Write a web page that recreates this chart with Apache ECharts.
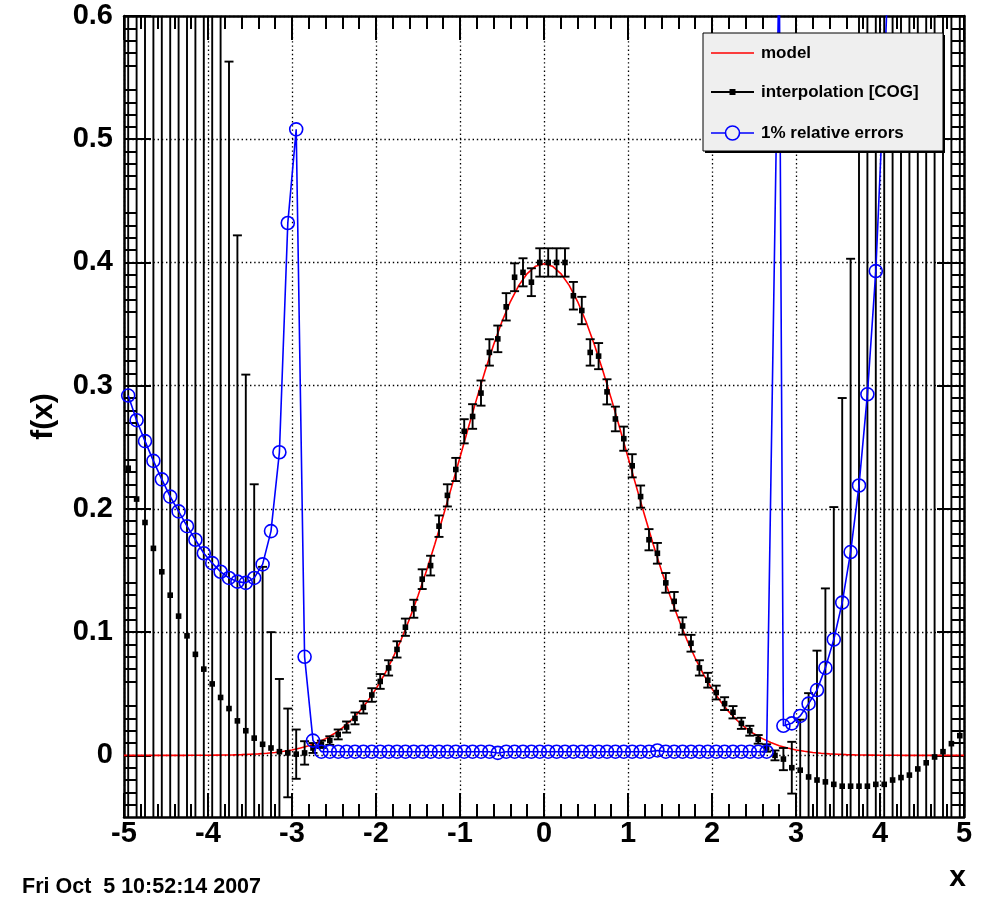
<!DOCTYPE html>
<html>
<head>
<meta charset="utf-8">
<script src="https://cdn.jsdelivr.net/npm/echarts@6/dist/echarts.min.js"></script>
<style>
html,body{margin:0;padding:0;background:#fff;}
#c{width:981px;height:899px;}
</style>
</head>
<body>
<div id="c"></div>
<script>
// ---- data ----
const xTicks = [-5,-4,-3,-2,-1,0,1,2,3,4,5];
const yTicks = [0,0.1,0.2,0.3,0.4,0.5,0.6];

// model (red)
const modelX = [-5.0,-4.9,-4.8,-4.7,-4.6,-4.5,-4.4,-4.3,-4.2,-4.1,-4.0,-3.9,-3.8,-3.7,-3.6,-3.5,-3.4,-3.3,-3.2,-3.1,-3.0,-2.9,-2.8,-2.7,-2.6,-2.5,-2.4,-2.3,-2.2,-2.1,-2.0,-1.9,-1.8,-1.7,-1.6,-1.5,-1.4,-1.3,-1.2,-1.1,-1.0,-0.9,-0.8,-0.7,-0.6,-0.5,-0.4,-0.3,-0.2,-0.1,0.0,0.1,0.2,0.3,0.4,0.5,0.6,0.7,0.8,0.9,1.0,1.1,1.2,1.3,1.4,1.5,1.6,1.7,1.8,1.9,2.0,2.1,2.2,2.3,2.4,2.5,2.6,2.7,2.8,2.9,3.0,3.1,3.2,3.3,3.4,3.5,3.6,3.7,3.8,3.9,4.0,4.1,4.2,4.3,4.4,4.5,4.6,4.7,4.8,4.9,5.0];
const modelY = [0,0,0,0,0,0,0,0,0.0001,0.0001,0.0001,0.0002,0.0003,0.0004,0.0006,0.0009,0.0012,0.0017,0.0024,0.0033,0.0044,0.0060,0.0079,0.0104,0.0136,0.0175,0.0224,0.0283,0.0355,0.0440,0.0540,0.0656,0.0790,0.0940,0.1109,0.1295,0.1497,0.1714,0.1942,0.2179,0.2420,0.2661,0.2897,0.3123,0.3332,0.3521,0.3683,0.3814,0.3910,0.3970,0.3989,0.3970,0.3910,0.3814,0.3683,0.3521,0.3332,0.3123,0.2897,0.2661,0.2420,0.2179,0.1942,0.1714,0.1497,0.1295,0.1109,0.0940,0.0790,0.0656,0.0540,0.0440,0.0355,0.0283,0.0224,0.0175,0.0136,0.0104,0.0079,0.0060,0.0044,0.0033,0.0024,0.0017,0.0012,0.0009,0.0006,0.0004,0.0003,0.0002,0.0001,0.0001,0.0001,0,0,0,0,0,0,0,0];

// interpolation [COG] (black points with error bars)
const interpX = [-4.95,-4.85,-4.75,-4.65,-4.55,-4.45,-4.35,-4.25,-4.15,-4.05,-3.95,-3.85,-3.75,-3.65,-3.55,-3.45,-3.35,-3.25,-3.15,-3.05,-2.95,-2.85,-2.75,-2.65,-2.55,-2.45,-2.35,-2.25,-2.15,-2.05,-1.95,-1.85,-1.75,-1.65,-1.55,-1.45,-1.35,-1.25,-1.15,-1.05,-0.95,-0.85,-0.75,-0.65,-0.55,-0.45,-0.35,-0.25,-0.15,-0.05,0.05,0.15,0.25,0.35,0.45,0.55,0.65,0.75,0.85,0.95,1.05,1.15,1.25,1.35,1.45,1.55,1.65,1.75,1.85,1.95,2.05,2.15,2.25,2.35,2.45,2.55,2.65,2.75,2.85,2.95,3.05,3.15,3.25,3.35,3.45,3.55,3.65,3.75,3.85,3.95,4.05,4.15,4.25,4.35,4.45,4.55,4.65,4.75,4.85,4.95];
const interpY = [0.233,0.208,0.189,0.168,0.149,0.130,0.113,0.097,0.082,0.070,0.058,0.047,0.038,0.028,0.020,0.014,0.009,0.006,0.003,0.002,0.001,0.002,0.006,0.009,0.012,0.017,0.023,0.030,0.039,0.049,0.060,0.071,0.086,0.104,0.119,0.143,0.154,0.186,0.211,0.232,0.263,0.275,0.294,0.327,0.338,0.364,0.388,0.392,0.384,0.400,0.400,0.400,0.400,0.373,0.361,0.327,0.324,0.295,0.273,0.257,0.235,0.210,0.175,0.164,0.140,0.125,0.105,0.091,0.071,0.061,0.051,0.042,0.035,0.026,0.020,0.013,0.006,0.000,-0.003,-0.010,-0.012,-0.0175,-0.020,-0.0215,-0.0235,-0.025,-0.025,-0.025,-0.025,-0.0235,-0.0235,-0.020,-0.018,-0.016,-0.011,-0.006,-0.0013,0.003,0.0095,0.016];
const interpErr = [2.0,1.9,1.8,1.7,1.6,1.5,1.4,1.3,1.2,1.1,0.95,0.75,0.525,0.394,0.289,0.206,0.144,0.094,0.059,0.036,0.020,0.0095,0.004,0.003,0.0035,0.004,0.0045,0.0048,0.005,0.0055,0.006,0.0062,0.0066,0.007,0.0073,0.008,0.008,0.0087,0.009,0.0094,0.0098,0.0100,0.0102,0.0107,0.0108,0.0111,0.0113,0.0114,0.0113,0.0115,0.0115,0.0115,0.0115,0.0112,0.0111,0.0107,0.0106,0.0102,0.0100,0.0098,0.0094,0.009,0.0086,0.0084,0.008,0.0076,0.007,0.0068,0.0062,0.006,0.0056,0.0052,0.005,0.0045,0.004,0.0035,0.003,0.004,0.009,0.021,0.041,0.068,0.105,0.157,0.225,0.315,0.428,0.70,0.85,1.0,1.1,1.2,1.3,1.4,1.5,1.6,1.7,1.8,1.9,2.0];

// 1% relative errors (blue)
const relX = [-4.95,-4.85,-4.75,-4.65,-4.55,-4.45,-4.35,-4.25,-4.15,-4.05,-3.95,-3.85,-3.75,-3.65,-3.55,-3.45,-3.35,-3.25,-3.15,-3.05,-2.95,-2.85,-2.75,
  -2.65,-2.55,-2.45,-2.35,-2.25,-2.15,-2.05,-1.95,-1.85,-1.75,-1.65,-1.55,-1.45,-1.35,-1.25,-1.15,-1.05,-0.95,-0.85,-0.75,-0.65,-0.55,-0.45,-0.35,-0.25,-0.15,-0.05,
  0.05,0.15,0.25,0.35,0.45,0.55,0.65,0.75,0.85,0.95,1.05,1.15,1.25,1.35,1.45,1.55,1.65,1.75,1.85,1.95,2.05,2.15,2.25,2.35,2.45,2.55,2.65,
  2.80,2.85,2.95,3.05,3.15,3.25,3.35,3.45,3.55,3.65,3.75,3.85,3.95,4.05,4.15];
const relY = [0.292,0.272,0.255,0.239,0.224,0.210,0.198,0.186,0.175,0.164,0.156,0.149,0.144,0.141,0.140,0.144,0.155,0.182,0.246,0.432,0.508,0.080,0.012,
  0.003,0.003,0.003,0.003,0.003,0.003,0.003,0.003,0.003,0.003,0.003,0.003,0.003,0.003,0.003,0.003,0.003,0.003,0.003,0.003,0.003,0.002,0.003,0.003,0.003,0.003,0.003,
  0.003,0.003,0.003,0.003,0.003,0.003,0.003,0.003,0.003,0.003,0.003,0.003,0.003,0.004,0.003,0.003,0.003,0.003,0.003,0.003,0.003,0.003,0.003,0.003,0.003,0.003,0.003,
  0.65,0.024,0.026,0.032,0.042,0.053,0.071,0.094,0.124,0.165,0.219,0.293,0.393,0.55,0.73];

const legendNames = ['model','interpolation [COG]','1% relative errors'];
const stampText = 'Fri Oct  5 10:52:14 2007';

// ---- chart ----
const FONT = 'Liberation Sans, Arial, Helvetica, sans-serif';
const chart = echarts.init(document.getElementById('c'), null, {renderer:'canvas'});

const dotted = {show:true, lineStyle:{color:'#000', width:1.3, type:[1.4,2.8]}};

function xAx(pos, labels){
  return {
    type:'value', position:pos, min:-5, max:5, interval:1,
    axisLine:{show:true, onZero:false, lineStyle:{color:'#000', width:2.5}},
    axisTick:{show:true, inside:true, length:24, lineStyle:{color:'#000', width:2}},
    minorTick:{show:true, splitNumber:5, length:13, lineStyle:{color:'#000', width:2}},
    splitLine: labels ? dotted : {show:false},
    axisLabel:{show:labels, margin:2, fontSize:29, fontWeight:'bold', fontFamily:FONT, color:'#000',
      formatter: v => String(v)}
  };
}
function yAx(pos, labels){
  return {
    type:'value', position:pos, min:-0.05, max:0.6, interval:0.05,
    axisLine:{show:true, onZero:false, lineStyle:{color:'#000', width:2.5}},
    axisTick:{show:true, inside:true, length:27, customValues:yTicks, lineStyle:{color:'#000', width:2}},
    minorTick:{show:true, splitNumber:5, length:12, lineStyle:{color:'#000', width:2}},
    splitLine: labels ? dotted : {show:false},
    axisLabel:{show:labels, customValues:yTicks, margin:11, fontSize:29, fontWeight:'bold', fontFamily:FONT, color:'#000',
      formatter: v => (Math.abs(v) < 1e-9 ? '0' : v.toFixed(1))},
    name: labels ? 'f(x)' : '', nameLocation:'middle', nameGap:65,
    nameTextStyle:{fontSize:30, fontWeight:'bold', fontFamily:FONT, color:'#000'}
  };
}

const LZ = 100;
const option = {
  animation:false,
  backgroundColor:'#fff',
  grid:{left:124, right:17, top:16, bottom:82, containLabel:false},
  xAxis:[xAx('bottom', true), xAx('top', false)],
  yAxis:[yAx('left', true), yAx('right', false)],
  series:[
    {
      name:legendNames[0], type:'line', xAxisIndex:0, yAxisIndex:0,
      data: modelX.map((x,i)=>[x, modelY[i]]),
      showSymbol:false, clip:true, z:2,
      lineStyle:{color:'#ff0000', width:1.6}
    },
    {
      name:legendNames[1], type:'custom', xAxisIndex:0, yAxisIndex:0,
      data: interpX.map((x,i)=>[x, interpY[i], interpErr[i]]),
      encode:{x:0, y:1},
      clip:true, z:3,
      renderItem:function(params, api){
        const x = api.value(0), y = api.value(1), e = api.value(2);
        const cs = params.coordSys;
        const p = api.coord([x, y]);
        const top = api.coord([x, y + e])[1];
        const bot = api.coord([x, y - e])[1];
        const yMin = cs.y, yMax = cs.y + cs.height;
        const t = Math.max(top, yMin), b = Math.min(bot, yMax);
        const st = {stroke:'#000', lineWidth:1.9};
        const ch = [];
        ch.push({type:'line', shape:{x1:p[0], y1:t, x2:p[0], y2:b}, style:st});
        if (top >= yMin) ch.push({type:'line', shape:{x1:p[0]-4.5, y1:top, x2:p[0]+4.5, y2:top}, style:st});
        if (bot <= yMax) ch.push({type:'line', shape:{x1:p[0]-4.5, y1:bot, x2:p[0]+4.5, y2:bot}, style:st});
        if (p[1] >= yMin && p[1] <= yMax) ch.push({type:'rect', shape:{x:p[0]-2.8, y:p[1]-2.8, width:5.6, height:5.6}, style:{fill:'#000'}});
        return {type:'group', children:ch};
      }
    },
    {
      name:legendNames[2], type:'line', xAxisIndex:0, yAxisIndex:0,
      data: relX.map((x,i)=>[x, relY[i]]),
      symbol:'circle', symbolSize:13, showSymbol:true, showAllSymbol:true, clip:true, z:4,
      lineStyle:{color:'#0000ff', width:1.6},
      itemStyle:{color:'rgba(0,0,0,0)', borderColor:'#0000ff', borderWidth:1.6}
    }
  ],
  graphic:[
    {type:'rect', z:LZ, shape:{x:705, y:35, width:240, height:118}, style:{fill:'#000'}},
    {type:'rect', z:LZ+1, shape:{x:703, y:33, width:240, height:118}, style:{fill:'#efefef', stroke:'#000', lineWidth:1}},
    {type:'line', z:LZ+2, shape:{x1:711, y1:53, x2:754, y2:53}, style:{stroke:'#ff0000', lineWidth:1.6}},
    {type:'line', z:LZ+2, shape:{x1:711, y1:92, x2:754, y2:92}, style:{stroke:'#000', lineWidth:1.8}},
    {type:'rect', z:LZ+3, shape:{x:729.5, y:89, width:6, height:6}, style:{fill:'#000'}},
    {type:'line', z:LZ+2, shape:{x1:711, y1:133, x2:754, y2:133}, style:{stroke:'#0000ff', lineWidth:1.6}},
    {type:'circle', z:LZ+3, shape:{cx:732.5, cy:133, r:7}, style:{fill:'#efefef', stroke:'#0000ff', lineWidth:1.6}},
    {type:'text', z:LZ+2, x:761, y:53, style:{text:legendNames[0], font:'bold 17px '+FONT, fill:'#000', verticalAlign:'middle'}},
    {type:'text', z:LZ+2, x:761, y:92, style:{text:legendNames[1], font:'bold 17px '+FONT, fill:'#000', verticalAlign:'middle'}},
    {type:'text', z:LZ+2, x:761, y:133, style:{text:legendNames[2], font:'bold 17px '+FONT, fill:'#000', verticalAlign:'middle'}},
    {type:'text', z:LZ, x:966, y:878, style:{text:'x', font:'bold 30px '+FONT, fill:'#000', align:'right', verticalAlign:'middle'}},
    {type:'text', z:LZ, x:22, y:887, style:{text:stampText, font:'bold 21.5px '+FONT, fill:'#000', verticalAlign:'middle'}}
  ]
};
chart.setOption(option);
</script>
</body>
</html>
